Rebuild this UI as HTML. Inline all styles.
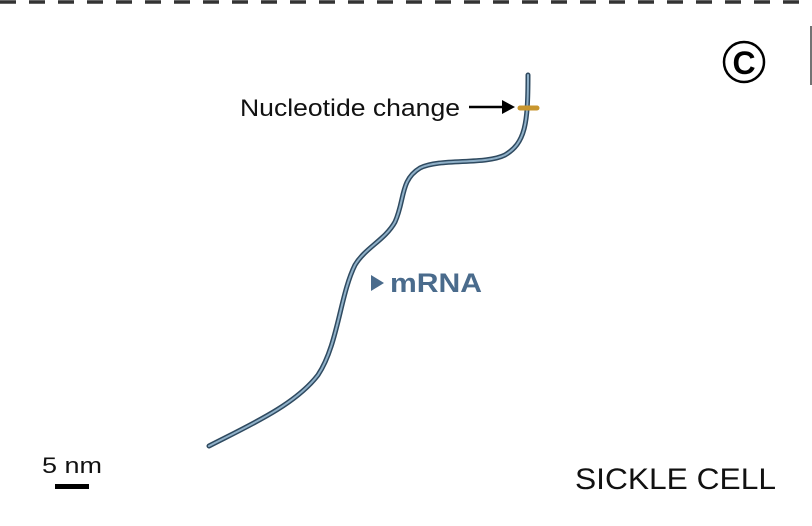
<!DOCTYPE html>
<html><head><style>
html,body{margin:0;padding:0;background:#fff;}
body{width:812px;height:526px;position:relative;overflow:hidden;font-family:"Liberation Sans",sans-serif;}
</style></head><body>
<svg width="812" height="526" viewBox="0 0 812 526" style="position:absolute;left:0;top:0">
<line x1="0" y1="2" x2="812" y2="2" stroke="#333" stroke-width="3.5" stroke-dasharray="16 13"/>
<line x1="811" y1="26" x2="811" y2="85" stroke="#444" stroke-width="1.5"/>
<circle cx="744" cy="62" r="20" fill="none" stroke="#000" stroke-width="2.5"/>
<text x="744" y="74" text-anchor="middle" font-family="Liberation Sans" font-weight="bold" font-size="32">C</text>
<path d="M209,446 C250,425 295,405 318,375 C338,345 340,295 355,265 C365,248 385,240 395,222 C405,200 400,180 420,168 C440,158 485,165 505,155 C525,143 528,125 528,75" fill="none" stroke="#2f4a60" stroke-width="5" stroke-linecap="round"/>
<path d="M209,446 C250,425 295,405 318,375 C338,345 340,295 355,265 C365,248 385,240 395,222 C405,200 400,180 420,168 C440,158 485,165 505,155 C525,143 528,125 528,75" fill="none" stroke="#8fb0c8" stroke-width="2" stroke-linecap="round"/>
<line x1="520" y1="108" x2="537" y2="108" stroke="#c8962e" stroke-width="5" stroke-linecap="round"/>
<text x="240" y="116" font-family="Liberation Sans" font-size="24" fill="#111" textLength="220" lengthAdjust="spacingAndGlyphs">Nucleotide change</text>
<line x1="469" y1="107" x2="505" y2="107" stroke="#000" stroke-width="2.5"/>
<polygon points="515,107 502,100 502,114" fill="#000"/>
<polygon points="371,275 371,291 384,283" fill="#4a6b8c"/>
<text x="390" y="292" font-family="Liberation Sans" font-weight="bold" font-size="27" fill="#4a6b8c" textLength="92" lengthAdjust="spacingAndGlyphs">mRNA</text>
<text x="42" y="473" font-family="Liberation Sans" font-size="22" fill="#111" textLength="60" lengthAdjust="spacingAndGlyphs">5 nm</text>
<rect x="55" y="484" width="34" height="5" fill="#000"/>
<text x="575" y="489" font-family="Liberation Sans" font-size="30" fill="#111" textLength="201" lengthAdjust="spacingAndGlyphs">SICKLE CELL</text>
</svg>
</body></html>
